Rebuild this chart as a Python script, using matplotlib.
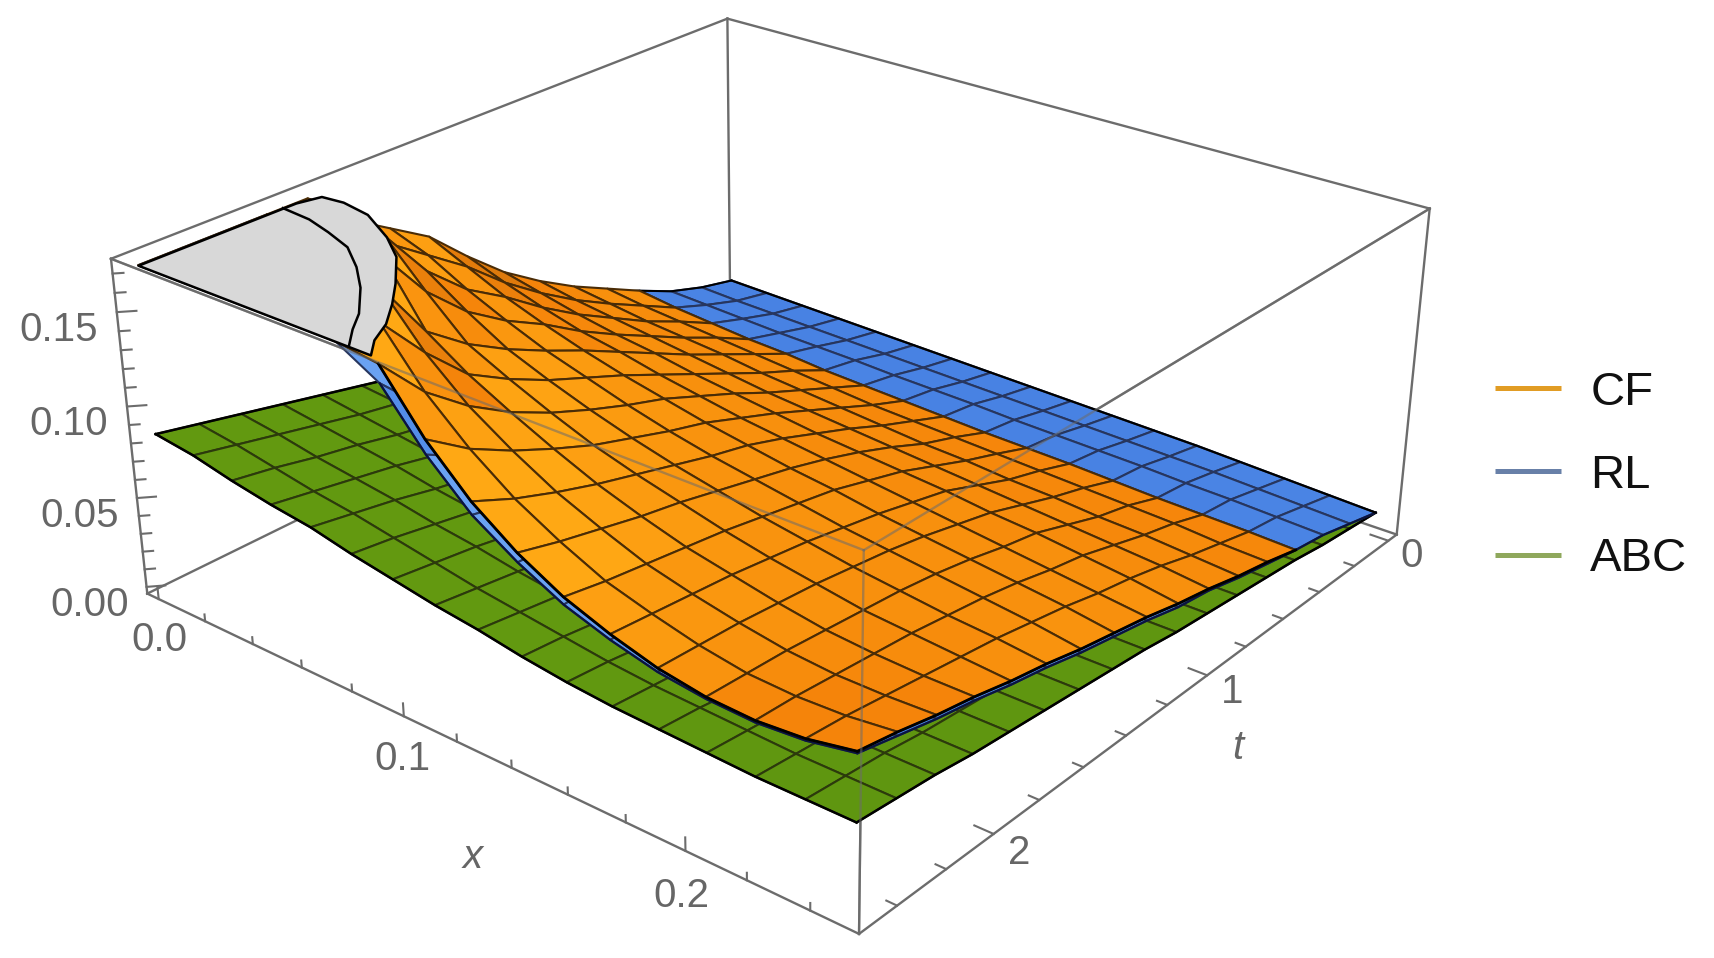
import numpy as np
import matplotlib
matplotlib.use('Agg')
import matplotlib.pyplot as plt
from matplotlib.lines import Line2D
from mpl_toolkits.mplot3d import proj3d
from mpl_toolkits.mplot3d.art3d import Poly3DCollection

plt.rcParams['font.family'] = ['Liberation Sans', 'DejaVu Sans']

# grid of the surfaces, 16 mesh cells each way
x_vals = [0, .015625, .03125, .046875, .0625, .078125, .09375, .109375, .125,
          .140625, .15625, .171875, .1875, .203125, .21875, .234375, .25]
t_vals = [0, .15625, .3125, .46875, .625, .78125, .9375, 1.09375, 1.25,
          1.40625, 1.5625, 1.71875, 1.875, 2.03125, 2.1875, 2.34375, 2.5]

# values, rows = t, columns = x
cf_vals = [
    [.018, .0175, .017, .0165, .016, .0155, .015, .0145, .014, .0135, .013, .0125, .012, .0115, .011, .0105, .010],
    [.022, .0215, .021, .0205, .020, .0195, .019, .0185, .018, .0175, .017, .0165, .016, .0155, .015, .0145, .014],
    [.030, .029, .028, .027, .0265, .026, .025, .0245, .024, .0235, .023, .0225, .022, .0215, .021, .020, .019],
    [.042, .039, .037, .035, .034, .032, .031, .030, .029, .028, .0275, .027, .026, .025, .0245, .024, .023],
    [.053, .050, .048, .046, .044, .042, .040, .038, .037, .036, .035, .034, .033, .032, .031, .029, .028],
    [.064, .061, .058, .056, .054, .051, .049, .047, .045, .043, .042, .040, .039, .037, .036, .034, .032],
    [.077, .073, .070, .067, .064, .061, .058, .056, .054, .052, .050, .048, .046, .044, .042, .040, .037],
    [.092, .087, .082, .078, .075, .071, .068, .065, .062, .060, .058, .056, .053, .051, .048, .045, .041],
    [.111, .103, .096, .090, .086, .081, .077, .073, .070, .067, .064, .061, .058, .055, .052, .049, .046],
    [.132, .122, .112, .104, .097, .091, .086, .081, .077, .073, .070, .066, .063, .060, .057, .054, .050],
    [.146, .138, .126, .116, .107, .100, .093, .087, .082, .078, .074, .070, .067, .064, .061, .058, .054],
    [.160, .154, .146, .131, .118, .109, .101, .094, .088, .083, .078, .074, .070, .067, .064, .062, .059],
    [.181, .181, .175, .152, .131, .120, .110, .101, .094, .088, .082, .077, .073, .069, .067, .065, .063],
    [.181, .181, .181, .181, .148, .133, .121, .110, .100, .092, .085, .080, .075, .071, .069, .068, .068],
    [.181, .181, .181, .181, .181, .155, .135, .120, .107, .097, .088, .082, .077, .073, .071, .071, .072],
    [.181, .181, .181, .181, .181, .181, .153, .132, .115, .102, .091, .084, .078, .074, .073, .074, .077],
    [.181, .181, .181, .181, .181, .181, .178, .148, .125, .108, .095, .086, .079, .075, .074, .076, .081],
]
rl_vals = [
    [.020, .0195, .019, .0185, .018, .0175, .017, .0165, .016, .0155, .015, .0145, .014, .013, .012, .011, .010],
    [.025, .024, .0235, .023, .0225, .022, .0215, .021, .0205, .020, .0195, .019, .0185, .018, .017, .016, .015],
    [.032, .031, .030, .029, .0285, .028, .027, .0265, .026, .025, .0245, .024, .0235, .0225, .022, .021, .020],
    [.042, .039, .037, .035, .034, .032, .031, .030, .029, .028, .0275, .027, .026, .025, .0245, .024, .023],
    [.051, .048, .046, .044, .042, .040, .038, .037, .036, .035, .034, .033, .032, .031, .030, .028, .027],
    [.062, .058, .055, .053, .051, .049, .047, .045, .043, .042, .040, .039, .037, .036, .035, .033, .031],
    [.074, .070, .067, .064, .061, .058, .056, .054, .052, .050, .048, .046, .044, .042, .040, .038, .036],
    [.088, .083, .078, .074, .072, .068, .065, .062, .059, .057, .055, .053, .051, .049, .046, .043, .039],
    [.106, .098, .092, .086, .082, .077, .073, .070, .067, .064, .061, .058, .055, .053, .050, .047, .044],
    [.126, .116, .107, .099, .093, .087, .082, .077, .073, .070, .067, .063, .060, .057, .054, .051, .048],
    [.140, .130, .120, .111, .103, .095, .089, .084, .079, .075, .071, .068, .065, .062, .058, .055, .052],
    [.150, .144, .134, .122, .112, .104, .097, .091, .086, .081, .076, .072, .069, .066, .063, .059, .057],
    [.165, .158, .146, .132, .120, .111, .103, .096, .090, .085, .080, .076, .072, .069, .066, .063, .061],
    [.181, .176, .160, .142, .128, .117, .108, .100, .094, .089, .084, .079, .075, .072, .069, .066, .066],
    [.181, .181, .181, .165, .148, .133, .120, .110, .100, .094, .088, .082, .077, .074, .072, .070, .070],
    [.181, .181, .181, .181, .178, .165, .145, .128, .113, .102, .092, .084, .078, .074, .072, .072, .075],
    [.181, .181, .181, .181, .181, .181, .168, .140, .118, .103, .091, .083, .077, .074, .073, .075, .080],
]
abc_vals = [
    [.010, .010, .010, .010, .010, .010, .010, .010, .010, .010, .010, .010, .010, .010, .010, .010, .010],
    [.011, .011, .011, .011, .011, .011, .012, .012, .012, .012, .012, .012, .012, .012, .012, .012, .012],
    [.016, .016, .016, .015, .015, .015, .015, .015, .015, .014, .014, .014, .014, .014, .014, .014, .014],
    [.021, .021, .020, .020, .020, .019, .019, .018, .018, .018, .017, .017, .017, .017, .017, .017, .017],
    [.027, .026, .026, .025, .024, .023, .023, .022, .021, .021, .020, .020, .019, .019, .019, .019, .019],
    [.032, .031, .030, .029, .028, .027, .026, .025, .024, .023, .022, .022, .021, .021, .021, .021, .021],
    [.037, .036, .034, .033, .032, .031, .029, .028, .027, .026, .025, .024, .024, .023, .023, .023, .023],
    [.042, .041, .039, .037, .036, .034, .033, .031, .030, .028, .027, .026, .026, .025, .025, .025, .025],
    [.047, .045, .044, .042, .040, .038, .037, .035, .033, .032, .030, .029, .029, .028, .028, .028, .028],
    [.052, .050, .048, .046, .044, .042, .040, .038, .036, .034, .033, .032, .031, .030, .030, .030, .030],
    [.058, .056, .053, .051, .049, .046, .044, .041, .039, .037, .035, .034, .033, .033, .032, .032, .032],
    [.063, .061, .058, .055, .053, .050, .047, .044, .042, .040, .037, .036, .035, .035, .034, .034, .034],
    [.068, .065, .062, .059, .056, .053, .050, .048, .045, .042, .040, .038, .037, .037, .036, .036, .036],
    [.073, .070, .067, .064, .060, .057, .054, .051, .047, .045, .042, .040, .039, .039, .038, .038, .038],
    [.078, .075, .071, .068, .065, .061, .058, .054, .051, .048, .045, .044, .042, .042, .041, .041, .041],
    [.083, .080, .076, .072, .069, .065, .061, .057, .054, .051, .048, .046, .045, .044, .043, .043, .043],
    [.088, .085, .080, .076, .073, .068, .064, .060, .057, .053, .050, .048, .047, .046, .045, .045, .045],
]
# tables were read against a slightly too tall z scale
z_fix = .96

# where the surfaces hit the top of the box
cf_cap_x = [0, .002, .010, .022, .038, .050, .063, .072, .080, .085, .091]
cf_cap_t = [1.92, 1.84, 1.83, 1.85, 1.93, 2.01, 2.14, 2.24, 2.34, 2.43, 2.5]
rl_cap_x = [0, .012, .023, .035, .047, .058, .070, .076, .083]
rl_cap_t = [1.97, 1.98, 2.01, 2.05, 2.13, 2.22, 2.34, 2.42, 2.5]
z_clip = .181 * z_fix

x_major = [0.0, 0.1, 0.2]
x_minor = [.02, .04, .06, .08, .12, .14, .16, .18, .22, .24]
t_major = [0, 1, 2]
t_minor = [.2, .4, .6, .8, 1.2, 1.4, 1.6, 1.8, 2.2, 2.4]
z_major = [0.00, 0.05, 0.10, 0.15]
z_minor = [.01, .02, .03, .04, .06, .07, .08, .09, .11, .12, .13, .14, .16, .17]

names = ['CF', 'RL', 'ABC']
legend_colors = ['#E19C24', '#6880A8', '#8FA85C']

# box limits and where its corners sit in the picture
xlo, xhi = -.005, .255
tlo, thi = -.05, 2.55
zlo, zhi = -.004 * z_fix, .185 * z_fix
corners_3d = [(xlo, thi, zlo), (xlo, thi, zhi), (xhi, thi, zlo), (xhi, thi, zhi),
              (xhi, tlo, zlo), (xhi, tlo, zhi), (xlo, tlo, zlo), (xlo, tlo, zhi)]
corners_px = [(147, 592), (112, 258), (858, 935), (864, 552),
              (1398, 530), (1429, 211), (730, 312), (727, 16)]

W, H = 1714, 958
fig = plt.figure(figsize=(W / 100, H / 100), dpi=100)
# square axes as wide as the figure, so nothing gets clipped
ax = fig.add_axes([0, -(W - H) / 2 / H, 1, W / H], projection='3d', computed_zorder=False)
ax.set_axis_off()
ax.patch.set_visible(False)
ax.apply_aspect()

# camera from the 8 box corners (the picture has a perspective mplot3d can't hit by view_init)
pts = ax.transData.inverted().transform([(px, H - py) for px, py in corners_px])
scale = np.array([1 / (xhi - xlo), 1 / (thi - tlo), 1 / (zhi - zlo), 1.0])
A = []
for (cx, ct, cz), (u, v) in zip(corners_3d, pts):
    p = np.array([cx, ct, cz, 1.0]) * scale
    A.append(np.r_[p, 0, 0, 0, 0, -u * p])
    A.append(np.r_[0, 0, 0, 0, p, -v * p])
P = np.linalg.svd(np.array(A))[2][-1].reshape(3, 4) * scale
if P[2] @ np.array([.1, 1, .1, 1]) < 0:
    P = -P
P = P / (P[2] @ np.array([.1, 1, .1, 1]))
M = np.vstack([P[0], P[1], [0, 0, 0, -1], P[2]])
ax.get_proj = lambda: M

X, T = np.meshgrid(x_vals, t_vals)


def cell_colors(z, dark, mid, bright):
    dzdx = np.diff(z, axis=1)[:-1, :] / np.diff(x_vals)[0]
    dzdt = np.diff(z, axis=0)[:, :-1] / np.diff(t_vals)[0]
    s = -.35 * np.clip(dzdx, None, 0) - 4 * np.clip(dzdt - .07, 0, .09)
    cols = np.zeros(s.shape + (4,))
    d, m, b = [np.array(matplotlib.colors.to_rgba(c)) for c in (dark, mid, bright)]
    for i in range(s.shape[0]):
        for j in range(s.shape[1]):
            if s[i, j] < 0:
                cols[i, j] = m + (d - m) * min(-s[i, j] / .3, 1)
            else:
                cols[i, j] = m + (b - m) * min(s[i, j] / .2, 1)
    return cols


def surface(z, first_row, zorder, edge, lw, colors):
    s = ax.plot_surface(X[first_row:], T[first_row:], z[first_row:], rstride=1, cstride=1,
                        facecolors=colors[first_row:], shade=False, linewidth=lw, zorder=zorder)
    s.set_edgecolor(edge)
    return s


abc = np.array(abc_vals) * z_fix
rl = np.array(rl_vals) * z_fix
cf = np.array(cf_vals) * z_fix
xs = np.array(x_vals)
ts = np.array(t_vals)

surface(abc, 0, 2, '#2c3a0c', 1.5, cell_colors(abc, '#5f9610', '#5f9610', '#689e10'))
surface(rl, 0, 3, '#27365f', 1.5, cell_colors(rl, '#4680e2', '#4680e2', '#6aa2f2'))
# CF lies under RL for the first rows of t
surface(cf, 3, 4, '#4a2c06', 1.5, cell_colors(cf, '#a06010', '#f5840a', '#ffa814'))

# black surface outlines
ax.plot(xs, ts[16] * np.ones(17), abc[16], color='k', lw=1.8, zorder=2.5)
ax.plot(xs[16] * np.ones(17), ts, abc[:, 16], color='k', lw=1.8, zorder=2.5)
ax.plot(xs[0] * np.ones(17), ts, abc[:, 0], color='k', lw=1.8, zorder=2.1)
ax.plot(xs[6:], ts[16] * np.ones(11), rl[16, 6:], color='#0a1440', lw=1.6, zorder=3.5)
ax.plot(xs[16] * np.ones(17), ts, rl[:, 16], color='#0a1440', lw=1.6, zorder=3.5)
ax.plot(xs, ts[0] * np.ones(17), rl[0], color='k', lw=1.6, zorder=3.5)
ax.plot(xs[0] * np.ones(5), ts[:5], rl[:5, 0], color='k', lw=1.4, zorder=3.5)
ax.plot(xs[6:], ts[16] * np.ones(11), cf[16, 6:], color='k', lw=2, zorder=4.5)
ax.plot(xs[16] * np.ones(14), ts[3:], cf[3:, 16], color='k', lw=2, zorder=4.5)

# flat grey caps where the surfaces are clipped by the box
cap_x = [0] + cf_cap_x
cap_t = [2.5] + cf_cap_t
cap = Poly3DCollection([list(zip(cap_x, cap_t, [z_clip] * len(cap_x)))],
                       facecolors='#d8d8d8', edgecolors='k', linewidths=1.8, zorder=5)
ax.add_collection3d(cap)
ax.plot(rl_cap_x, rl_cap_t, [z_clip] * len(rl_cap_x), color='k', lw=1.8, zorder=5.5)

# box edges: behind the surfaces solid, the three nearest ones see through on top
edge_col = '#6c6c6c'
back_edges = [((xlo, thi, zlo), (xlo, thi, zhi)), ((xlo, tlo, zlo), (xlo, tlo, zhi)),
              ((xhi, tlo, zlo), (xhi, tlo, zhi)), ((xlo, thi, zhi), (xlo, tlo, zhi)),
              ((xlo, tlo, zhi), (xhi, tlo, zhi)), ((xlo, thi, zlo), (xlo, tlo, zlo)),
              ((xlo, tlo, zlo), (xhi, tlo, zlo)), ((xlo, thi, zlo), (xhi, thi, zlo)),
              ((xhi, thi, zlo), (xhi, tlo, zlo))]
front_edges = [((xhi, thi, zlo), (xhi, thi, zhi)), ((xlo, thi, zhi), (xhi, thi, zhi)),
               ((xhi, thi, zhi), (xhi, tlo, zhi))]
for a, b in back_edges + front_edges:
    ax.plot(*zip(a, b), color=edge_col, lw=1.7, zorder=1)
for a, b in front_edges:
    ax.plot(*zip(a, b), color=edge_col, lw=1.7, alpha=.55, zorder=6)

# ticks
for z in z_major + z_minor:
    k = 1 if z in z_major else .55
    ax.plot([xlo, xlo + .0035 * k], [thi, thi - .04 * k], [z, z], color=edge_col, lw=1.5, zorder=1)
for x in x_major + x_minor:
    k = 1 if x in x_major else .55
    ax.plot([x, x], [thi, thi], [zlo, zlo + .007 * k], color=edge_col, lw=1.5, zorder=1)
for t in t_major + t_minor:
    k = 1 if t in t_major else .55
    ax.plot([xhi, xhi - .006 * k], [t, t], [zlo, zlo], color=edge_col, lw=1.5, zorder=1)


# labels go through the camera by hand, so they end up as plain figure text
def label3d(x, t, z, s, ha='center', **kw):
    u, v, _ = proj3d.proj_transform(x, t, z, M)
    px, py = ax.transData.transform((u, v))
    fig.text(px / W, py / H, s, ha=ha, va='center', color='#666666', **kw)


for z in z_major:
    label3d(xlo, thi + .07, z - .005, '%.2f' % z, ha='right', fontsize=29)
for x in x_major:
    label3d(x - .0015, thi, zlo - .0245, '%.1f' % x, fontsize=29)
for t in t_major:
    label3d(xhi + .008, t, zlo - .004, '%d' % t, fontsize=29)
label3d(.1235, thi, zlo - .061, 'x', style='italic', fontsize=29)
label3d(xhi, .80, zlo - .058, 't', style='italic', fontsize=29)

handles = [Line2D([], [], color=c, lw=3.6, solid_capstyle='butt') for c in legend_colors]
fig.legend(handles, names, loc='center left', bbox_to_anchor=(1495 / W, 1 - 476 / H), frameon=False,
           fontsize=34, handlelength=1.4, handletextpad=.62, labelspacing=.83,
           borderpad=0, borderaxespad=0, labelcolor='#111111')

fig.savefig('out.png', dpi=100)
